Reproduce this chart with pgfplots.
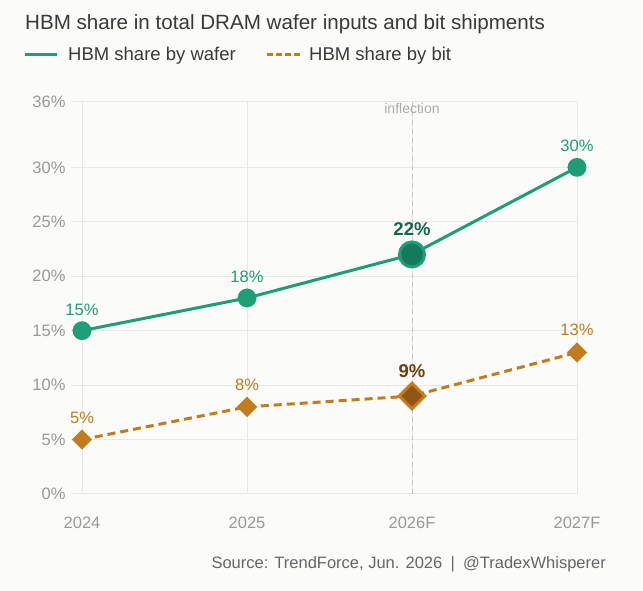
\documentclass[border=0pt]{standalone}
\usepackage{pgfplots}
\pgfplotsset{compat=1.18}
\usepackage{fontspec}
\setmainfont{Liberation Sans}
\definecolor{bg}{HTML}{FBFBF9}
\definecolor{wafer}{HTML}{1E9E76}
\definecolor{waferdark}{HTML}{147A5B}
\definecolor{waferlab}{HTML}{16664E}
\definecolor{bit}{HTML}{C27C1C}
\definecolor{bitdark}{HTML}{8E5513}
\definecolor{bitlab}{HTML}{6B3F0E}
\definecolor{titlec}{HTML}{3A3A3A}
\definecolor{tickc}{HTML}{999999}
\definecolor{gridc}{HTML}{E8E8E6}
\begin{document}
\begin{tikzpicture}[x=1pt,y=1pt]
\fill[bg] (0,0) rectangle (643,591);
\useasboundingbox (0,0) rectangle (643,591);
\node[anchor=base west, inner sep=0, font=\fontsize{20.6}{24}\selectfont, text=titlec] at (25,561) {HBM share in total DRAM wafer inputs and bit shipments};
\draw[wafer, line width=3pt] (25,536) -- (57,536);
\node[anchor=base west, inner sep=0, font=\fontsize{18.5}{22}\selectfont, text=titlec] at (68,530) {HBM share by wafer};
\draw[bit, line width=3pt, dash pattern=on 6pt off 3pt] (267,536) -- (302,536);
\node[anchor=base west, inner sep=0, font=\fontsize{18.5}{22}\selectfont, text=titlec] at (309,530) {HBM share by bit};
\node[anchor=base east, inner sep=0, font=\fontsize{16.5}{20}\selectfont, text=black!60] at (606,22) {Source: TrendForce, Jun. 2026\enspace|\enspace@TradexWhisperer};
\begin{axis}[
  at={(71pt,97pt)}, anchor=south west, scale only axis,
  width=506pt, height=392pt,
  xmin=-0.0667, xmax=3, ymin=0, ymax=36,
  clip=false,
  axis line style={draw=none},
  major tick length=0pt,
  xtick={0,1,2,3}, xticklabels={2024,2025,2026F,2027F},
  ytick={0,5,10,15,20,25,30,36},
  yticklabel={\pgfmathprintnumber{\tick}\%},
  /pgf/number format/assume math mode=true,
  tick label style={font=\fontsize{16.5}{19}\selectfont, text=tickc},
  xticklabel style={yshift=-19pt},
  yticklabel style={xshift=-2pt},
  xmajorgrids, ymajorgrids,
  grid style={gridc, line width=1pt},
  nodes near coords={\pgfmathprintnumber{\pgfplotspointmeta}\%},
  point meta=y,
]
\addplot[black!22, line width=1pt, dash pattern=on 5pt off 4pt, nodes near coords={}] coordinates {(2,0) (2,36)};
\node[anchor=north, font=\fontsize{14}{16}\selectfont, text=black!33, inner sep=0] at (axis cs:2,35.85) {inflection};
% wafer series line
\addplot[wafer, line width=3pt, nodes near coords={}] coordinates {(0,15) (1,18) (2,22) (3,30)};
% bit series line
\addplot[bit, line width=3pt, dash pattern=on 8pt off 5pt, nodes near coords={}] coordinates {(0,5) (1,8) (2,9) (3,13)};
% wafer markers
\addplot[wafer, only marks, mark=*, mark size=9.3pt, mark options={fill=wafer, draw=wafer, line width=0.1pt},
  every node near coord/.style={anchor=south, yshift=12pt, font=\fontsize{16.5}{19}\selectfont, text=wafer}]
  coordinates {(0,15) (1,18) (3,30)};
\addplot[wafer, only marks, mark=*, mark size=12.5pt, mark options={fill=waferdark, draw=wafer, line width=3pt},
  every node near coord/.style={anchor=south, yshift=14pt, font=\bfseries\fontsize{18.5}{21}\selectfont, text=waferlab}]
  coordinates {(2,22)};
% bit markers
\addplot[bit, only marks, mark=square*, mark size=7pt, mark options={fill=bit, draw=bit, rotate=45, line width=0.1pt},
  every node near coord/.style={anchor=south, yshift=13pt, font=\fontsize{16.5}{19}\selectfont, text=bit}]
  coordinates {(0,5) (1,8) (3,13)};
\addplot[bit, only marks, mark=square*, mark size=9pt, mark options={fill=bitdark, draw=bit, rotate=45, line width=3pt},
  every node near coord/.style={anchor=south, yshift=13pt, font=\bfseries\fontsize{18.5}{21}\selectfont, text=bitlab}]
  coordinates {(2,9)};
\end{axis}
\end{tikzpicture}
\end{document}
